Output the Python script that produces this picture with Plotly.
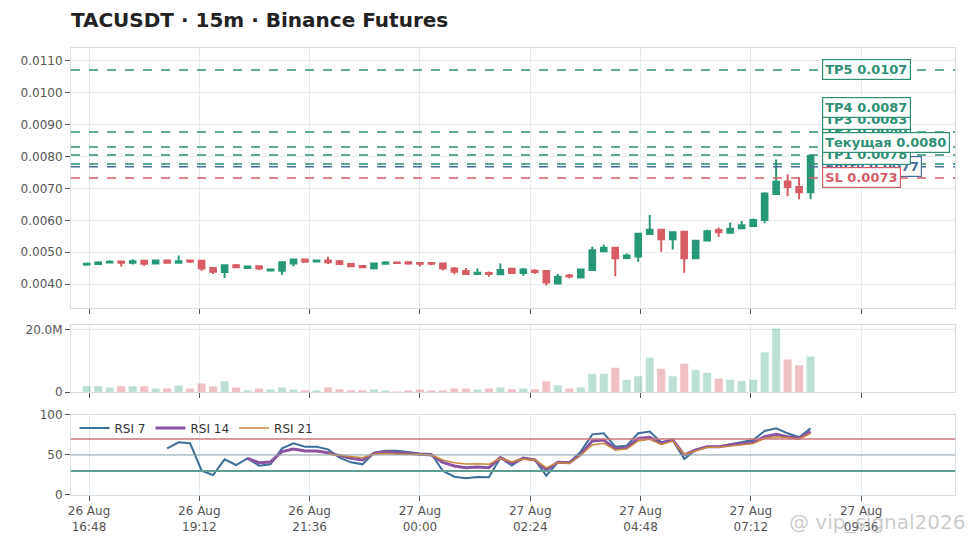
import pandas as pd
import plotly.graph_objects as go
from plotly.subplots import make_subplots

# 15m candles, 26 Aug 16:45 -> 27 Aug 08:30
start_time = "2025-08-26 16:45"
n_candles = 64
times = pd.date_range(start_time, periods=n_candles, freq="15min")

opens = [0.00462, 0.00463, 0.00468, 0.00471, 0.00467, 0.00473, 0.00465, 0.00474, 0.00467, 0.00474,
         0.00473, 0.00451, 0.00438, 0.00459, 0.00451, 0.00456, 0.00443, 0.00442, 0.00465, 0.00477,
         0.00471, 0.00474, 0.00472, 0.00463, 0.00457, 0.00450, 0.00464, 0.00468, 0.00469, 0.00466,
         0.00466, 0.00465, 0.00449, 0.00441, 0.00432, 0.00435, 0.00431, 0.00448, 0.00435, 0.00442,
         0.00441, 0.00402, 0.00427, 0.00421, 0.00444, 0.00503, 0.00514, 0.00482, 0.00487, 0.00557,
         0.00571, 0.00541, 0.00564, 0.00481, 0.00537, 0.00570, 0.00561, 0.00575, 0.00582, 0.00601,
         0.00683, 0.00722, 0.00705, 0.00688]
highs = [0.00468, 0.00472, 0.00475, 0.00472, 0.00478, 0.00474, 0.00475, 0.00477, 0.00490, 0.00475,
         0.00474, 0.00453, 0.00460, 0.00463, 0.00456, 0.00458, 0.00448, 0.00471, 0.00479, 0.00479,
         0.00477, 0.00486, 0.00476, 0.00464, 0.00459, 0.00466, 0.00472, 0.00468, 0.00470, 0.00469,
         0.00467, 0.00466, 0.00454, 0.00451, 0.00449, 0.00440, 0.00465, 0.00449, 0.00451, 0.00447,
         0.00443, 0.00432, 0.00432, 0.00447, 0.00517, 0.00524, 0.00516, 0.00496, 0.00560, 0.00617,
         0.00573, 0.00566, 0.00565, 0.00538, 0.00571, 0.00578, 0.00593, 0.00598, 0.00605, 0.00688,
         0.00791, 0.00745, 0.00733, 0.00807]
lows = [0.00458, 0.00460, 0.00467, 0.00455, 0.00462, 0.00457, 0.00464, 0.00464, 0.00466, 0.00466,
        0.00442, 0.00432, 0.00419, 0.00450, 0.00450, 0.00444, 0.00440, 0.00429, 0.00456, 0.00468,
        0.00470, 0.00463, 0.00460, 0.00455, 0.00451, 0.00446, 0.00463, 0.00465, 0.00461, 0.00455,
        0.00459, 0.00443, 0.00431, 0.00430, 0.00431, 0.00423, 0.00429, 0.00434, 0.00426, 0.00432,
        0.00396, 0.00399, 0.00418, 0.00420, 0.00443, 0.00501, 0.00425, 0.00478, 0.00470, 0.00556,
        0.00502, 0.00509, 0.00436, 0.00478, 0.00535, 0.00548, 0.00559, 0.00572, 0.00579, 0.00591,
        0.00682, 0.00676, 0.00666, 0.00666]
closes = [0.00464, 0.00468, 0.00470, 0.00467, 0.00472, 0.00464, 0.00474, 0.00467, 0.00472, 0.00471,
          0.00449, 0.00439, 0.00459, 0.00453, 0.00455, 0.00449, 0.00446, 0.00469, 0.00477, 0.00470,
          0.00474, 0.00469, 0.00463, 0.00456, 0.00453, 0.00465, 0.00468, 0.00466, 0.00465, 0.00464,
          0.00464, 0.00449, 0.00439, 0.00432, 0.00436, 0.00432, 0.00444, 0.00435, 0.00446, 0.00438,
          0.00405, 0.00423, 0.00424, 0.00446, 0.00506, 0.00514, 0.00481, 0.00490, 0.00558, 0.00571,
          0.00541, 0.00563, 0.00481, 0.00536, 0.00566, 0.00563, 0.00574, 0.00585, 0.00601, 0.00684,
          0.00721, 0.00705, 0.00688, 0.00802]

# volume in millions
volumes_m = [1.9, 1.9, 1.5, 1.9, 1.9, 1.9, 1.2, 1.2, 2.1, 1.2,
             2.75, 1.9, 3.5, 1.5, 0.6, 1.2, 0.85, 1.5, 0.85, 0.6,
             0.6, 1.5, 0.95, 0.6, 0.6, 0.85, 0.5, 0.2, 0.5, 0.85,
             0.5, 0.5, 1.2, 1.2, 0.85, 1.2, 1.5, 0.95, 1.2, 0.95,
             3.5, 2.2, 1.2, 1.5, 5.9, 5.9, 7.8, 3.95, 5.1, 11.0,
             7.5, 5.1, 9.1, 7.0, 6.2, 4.3, 3.95, 3.6, 3.95, 12.7,
             20.3, 10.4, 8.6, 11.4]

rsi7 = [None] * 7 + [58.3, 65.8, 64.6, 30.4, 25.0, 44.6, 37.5, 45.8, 36.7, 38.3,
                     58.3, 64.6, 60.4, 60.4, 57.0, 46.7, 40.8, 38.3, 52.9, 55.4,
                     55.4, 53.3, 52.0, 51.2, 30.0, 22.9, 20.8, 22.5, 22.1, 46.7,
                     36.7, 46.7, 43.8, 24.2, 40.8, 40.8, 54.2, 75.8, 77.1, 60.4,
                     61.7, 77.1, 79.2, 65.8, 68.8, 45.0, 56.3, 60.4, 60.4, 63.3,
                     65.8, 68.8, 80.0, 83.3, 77.1, 72.1, 83.3]
rsi14 = [None] * 14 + [45.8, 40.4, 41.3, 54.2, 57.5, 55.0, 55.0, 52.9, 49.2, 45.8,
                       43.8, 52.0, 54.2, 52.9, 52.0, 50.8, 50.0, 40.8, 36.3, 34.2,
                       35.0, 34.2, 46.7, 39.6, 45.8, 43.8, 31.3, 40.8, 40.4, 50.8,
                       67.5, 68.8, 57.5, 59.2, 70.8, 72.1, 64.6, 68.8, 50.0, 56.3,
                       60.4, 60.4, 62.5, 63.8, 65.8, 72.9, 75.8, 72.9, 70.8, 79.2]
rsi21 = [None] * 21 + [51.3, 50.0, 48.0, 46.7, 51.3, 52.0, 51.0, 51.0, 50.8, 50.0,
                       43.8, 40.4, 38.8, 39.0, 38.3, 45.8, 41.7, 45.0, 43.8, 34.2,
                       40.4, 39.6, 50.0, 62.5, 64.6, 56.3, 57.5, 67.5, 69.6, 63.3,
                       67.5, 50.8, 55.4, 59.6, 59.6, 61.3, 62.5, 64.2, 70.8, 72.9,
                       71.7, 70.0, 77.1]

# trade levels (drawing order = label stacking order)
level_names = ["Entry", "SL", "TP1", "TP2", "TP3", "TP4", "TP5", "Текущая"]
level_prices = [0.00768, 0.00733, 0.00777, 0.00805, 0.00830, 0.00877, 0.01072, 0.00802]
level_texts = ["Entry 0.0077", "SL 0.0073", "TP1 0.0078", "TP2 0.0080", "TP3 0.0083",
               "TP4 0.0087", "TP5 0.0107", "Текущая 0.0080"]

GREEN = "#269878"
RED = "#d65c66"
BLUE = "#4a6e9c"
TP_GREEN = "#2f8f74"
GRID = "#e3ebf1"
FRAME = "#d3dee7"
level_colors = {"Entry": BLUE, "SL": RED, "Текущая": TP_GREEN}

fig = make_subplots(rows=3, cols=1, shared_xaxes=True)

fig.add_trace(go.Candlestick(
    x=times, open=opens, high=highs, low=lows, close=closes,
    increasing=dict(line=dict(color=GREEN, width=2), fillcolor=GREEN),
    decreasing=dict(line=dict(color=RED, width=2), fillcolor=RED),
    whiskerwidth=0, showlegend=False, name="TACUSDT"), row=1, col=1)

vol_colors = ["rgba(38,152,120,0.3)" if c >= o else "rgba(214,92,102,0.38)"
              for o, c in zip(opens, closes)]
fig.add_trace(go.Bar(x=times, y=[v * 1e6 for v in volumes_m], marker_color=vol_colors,
                     marker_line_width=0, width=15 * 60 * 1000 * 0.7,
                     showlegend=False, name="Volume"), row=2, col=1)

fig.add_trace(go.Scatter(x=times, y=rsi7, mode="lines", name="RSI 7",
                         line=dict(color="#3d6f98", width=2)), row=3, col=1)
fig.add_trace(go.Scatter(x=times, y=rsi14, mode="lines", name="RSI 14",
                         line=dict(color="#8a55a0", width=3)), row=3, col=1)
fig.add_trace(go.Scatter(x=times, y=rsi21, mode="lines", name="RSI 21",
                         line=dict(color="#c98a3c", width=1.5)), row=3, col=1)

fig.add_hline(y=70, line=dict(color="#c9777b", width=1.5), row=3, col=1)
fig.add_hline(y=50, line=dict(color="#92a6ae", width=1.2), row=3, col=1)
fig.add_hline(y=30, line=dict(color="#5f9c91", width=2), row=3, col=1)

# level lines
for name, price in zip(level_names, level_prices):
    if name == "Текущая":
        continue
    col = level_colors.get(name, TP_GREEN)
    fig.add_hline(y=price, line=dict(color=col, width=1.5, dash="dash"), row=1, col=1)

# labels pushed apart from the bottom up so they don't sit on each other
order = sorted(range(len(level_prices)), key=lambda k: level_prices[k])
gap = 0.00037
label_y = {}
prev = None
for k in order:
    p = level_prices[k]
    if prev is not None and p < prev + gap:
        p = prev + gap
    label_y[k] = p
    prev = p

for k, name in enumerate(level_names):
    col = level_colors.get(name, TP_GREEN)
    fig.add_annotation(x=0.85, xref="paper", y=label_y[k], yref="y",
                       xanchor="left", yanchor="middle", showarrow=False,
                       text="<b>" + level_texts[k] + "</b>",
                       font=dict(size=13, color=col, family="DejaVu Sans"),
                       bgcolor="white", bordercolor=col, borderwidth=1.2, borderpad=2)

fig.add_annotation(x=1.015, xref="paper", y=-0.06, yref="paper", xanchor="right",
                   yanchor="middle", showarrow=False, text="@ vip_signal2026",
                   font=dict(size=20, color="rgba(160,160,160,0.55)", family="DejaVu Sans"))

axis_style = dict(showgrid=True, gridcolor=GRID, showline=True, linecolor=FRAME, mirror=True,
                  ticks="outside", ticklen=5, tickcolor="#555", zeroline=False)

x_range = ["2025-08-26 16:24:30", "2025-08-27 11:38:30"]
for i, dom in zip([1, 2, 3], [[0.418, 1.0], [0.23, 0.38], [0.0, 0.179]]):
    fig.update_xaxes(axis_style, row=i, col=1)
    fig.update_yaxes(axis_style, domain=dom, row=i, col=1)

fig.update_xaxes(range=x_range, tickmode="linear", tick0="2025-08-26 16:48",
                 dtick=144 * 60 * 1000, tickformat="%d %b<br>%H:%M",
                 rangeslider_visible=False)
fig.update_xaxes(showticklabels=False, row=1, col=1)
fig.update_xaxes(showticklabels=False, row=2, col=1)

fig.update_yaxes(range=[0.003247, 0.011407], tickformat=".4f", dtick=0.001, tick0=0,
                 row=1, col=1)
fig.update_yaxes(tickvals=[0, 20e6], ticktext=["0", "20.0M"], row=2, col=1)
fig.update_yaxes(range=[0, 100], tickvals=[0, 50, 100], row=3, col=1)

fig.update_layout(
    width=971, height=548,
    margin=dict(l=71, r=16, t=48, b=53),
    template="plotly_white",
    plot_bgcolor="white",
    font=dict(family="DejaVu Sans", size=12, color="#555"),
    title=dict(text="<b>TACUSDT · 15m · Binance Futures</b>", x=0.073, xanchor="left",
               y=0.963, yanchor="middle", font=dict(size=20, color="#222")),
    legend=dict(orientation="h", x=0.004, y=0.15, xanchor="left", yanchor="middle",
                bgcolor="rgba(0,0,0,0)", font=dict(size=12, color="#333")),
    bargap=0.3,
)

fig.write_html("out.html", config={"displayModeBar": False},
               post_script="document.body.style.margin='0';document.body.style.padding='0';")
